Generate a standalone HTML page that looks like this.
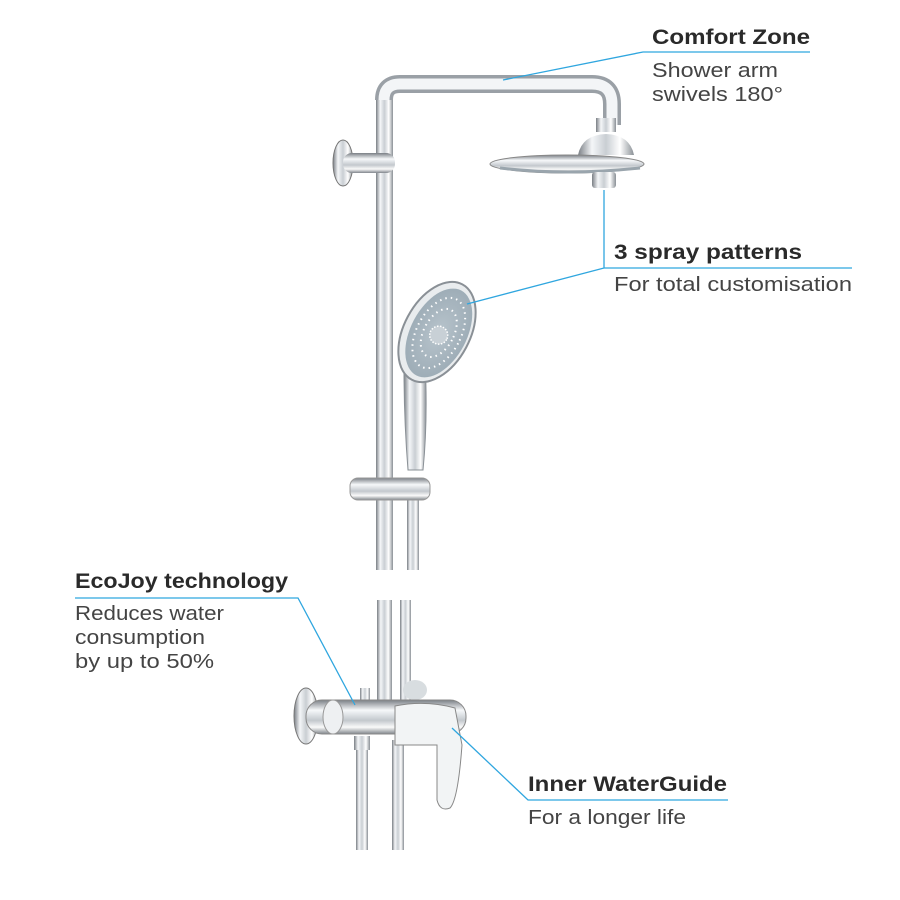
<!DOCTYPE html>
<html><head><meta charset="utf-8"><style>
html,body{margin:0;padding:0;background:#fff;}
svg{display:block;}
text{font-family:"Liberation Sans",sans-serif;fill:#2a2a2a;}
.b{font-weight:bold;font-size:21px;}
.n{font-size:20px;fill:#444;}
</style></head><body>
<svg width="900" height="900" viewBox="0 0 900 900" xmlns="http://www.w3.org/2000/svg">
<defs>
<linearGradient id="vg" x1="0" x2="1" y1="0" y2="0">
<stop offset="0" stop-color="#7a7f85"/><stop offset="0.25" stop-color="#f4f6f8"/><stop offset="0.5" stop-color="#c9ced3"/><stop offset="0.75" stop-color="#ffffff"/><stop offset="1" stop-color="#8a9096"/></linearGradient>
<linearGradient id="hg" x1="0" x2="0" y1="0" y2="1">
<stop offset="0" stop-color="#7a7f85"/><stop offset="0.3" stop-color="#f6f8fa"/><stop offset="0.6" stop-color="#c3c8cd"/><stop offset="0.8" stop-color="#fafafa"/><stop offset="1" stop-color="#80868c"/></linearGradient>
<radialGradient id="face" cx="0.5" cy="0.5" r="0.5"><stop offset="0" stop-color="#b8c4cc"/><stop offset="1" stop-color="#9eadb7"/></radialGradient>
</defs>
<!-- arm -->
<path d="M384 100 Q384 84 400 84 H592 Q612 84 612 104 V125" fill="none" stroke="#9aa0a6" stroke-width="18"/>
<path d="M384 100 Q384 84 400 84 H592 Q612 84 612 104 V125" fill="none" stroke="#f3f5f7" stroke-width="11"/>
<rect x="376" y="100" width="17" height="470" fill="url(#vg)"/>
<!-- bracket -->
<ellipse cx="343" cy="163" rx="10" ry="23" fill="url(#vg)" stroke="#777" stroke-width="1"/>
<rect x="343" y="153" width="52" height="20" rx="9" fill="url(#hg)"/>
<!-- shower head -->
<rect x="596" y="118" width="20" height="14" fill="url(#vg)"/>
<path d="M578 155 Q582 135 606 134 Q630 135 634 155 Z" fill="url(#vg)"/>
<ellipse cx="567" cy="164" rx="77" ry="9" fill="url(#hg)" stroke="#888" stroke-width="1"/>
<path d="M500 168 Q567 176 640 168" stroke="#9aa5ad" stroke-width="3" fill="none"/>
<rect x="592" y="172" width="24" height="16" rx="3" fill="url(#vg)"/>
<!-- hose upper -->
<rect x="407" y="500" width="12" height="70" fill="url(#vg)"/>
<path d="M404 370 Q408 360 425 360 Q428 420 423 470 L408 470 Q404 420 404 370Z" fill="url(#vg)" stroke="#8a9096"/>
<g transform="rotate(28 437 332)">
<ellipse cx="437" cy="332" rx="33" ry="54" fill="#e9ecee" stroke="#8a9096" stroke-width="2"/>
<ellipse cx="439" cy="332" rx="28" ry="48" fill="url(#face)"/>
<circle cx="440" cy="334" r="9" fill="#c8d0d6" stroke="#fff" stroke-width="1.5" stroke-dasharray="1.5 1.5"/>
<ellipse cx="439" cy="332" rx="22" ry="38" fill="none" stroke="#fff" stroke-width="2" stroke-dasharray="1.5 4"/>
<ellipse cx="439" cy="332" rx="15" ry="26" fill="none" stroke="#fff" stroke-width="2" stroke-dasharray="1.5 4"/>
</g>
<!-- slider -->
<rect x="350" y="478" width="80" height="22" rx="8" fill="url(#hg)" stroke="#999"/>
<!-- lower section -->
<rect x="377" y="600" width="15" height="105" fill="url(#vg)"/>
<rect x="400" y="600" width="11" height="100" fill="url(#vg)"/>
<rect x="392" y="740" width="12" height="110" fill="url(#vg)"/>
<rect x="356" y="745" width="12" height="105" fill="url(#vg)"/>
<rect x="354" y="736" width="16" height="14" fill="url(#vg)"/>
<rect x="360" y="688" width="10" height="16" fill="url(#vg)"/>
<ellipse cx="415" cy="690" rx="12" ry="10" fill="#d8dde0"/>
<ellipse cx="306" cy="716" rx="12" ry="28" fill="url(#vg)" stroke="#777"/>
<rect x="306" y="700" width="160" height="34" rx="16" fill="url(#hg)" stroke="#888"/>
<ellipse cx="333" cy="717" rx="10" ry="17" fill="#eef0f2" stroke="#999"/>
<path d="M395 706 Q425 700 455 708 L462 745 Q458 800 450 808 Q440 812 437 800 L437 745 L395 745 Z" fill="#f2f4f5" stroke="#888"/>
<!-- connectors -->
<g stroke="#2fa6df" stroke-width="1.3" fill="none">
<path d="M503 80 L643 52 H810"/>
<path d="M467 304 L604 268 H852 M604 190 V268"/>
<path d="M355 705 L298 598 H75"/>
<path d="M452 728 L528 800 H728"/>
</g>
<text x="652" y="44" class="b" textLength="158" lengthAdjust="spacingAndGlyphs">Comfort Zone</text>
<text x="652" y="77" class="n" textLength="126" lengthAdjust="spacingAndGlyphs">Shower arm</text>
<text x="652" y="101" class="n" textLength="131" lengthAdjust="spacingAndGlyphs">swivels 180°</text>
<text x="614" y="259" class="b" textLength="188" lengthAdjust="spacingAndGlyphs">3 spray patterns</text>
<text x="614" y="291" class="n" textLength="238" lengthAdjust="spacingAndGlyphs">For total customisation</text>
<text x="75" y="588" class="b" textLength="213" lengthAdjust="spacingAndGlyphs">EcoJoy technology</text>
<text x="75" y="620" class="n" textLength="149" lengthAdjust="spacingAndGlyphs">Reduces water</text>
<text x="75" y="644" class="n" textLength="130" lengthAdjust="spacingAndGlyphs">consumption</text>
<text x="75" y="668" class="n" textLength="139" lengthAdjust="spacingAndGlyphs">by up to 50%</text>
<text x="528" y="791" class="b" textLength="199" lengthAdjust="spacingAndGlyphs">Inner WaterGuide</text>
<text x="528" y="824" class="n" textLength="158" lengthAdjust="spacingAndGlyphs">For a longer life</text>
</svg>
</body></html>
